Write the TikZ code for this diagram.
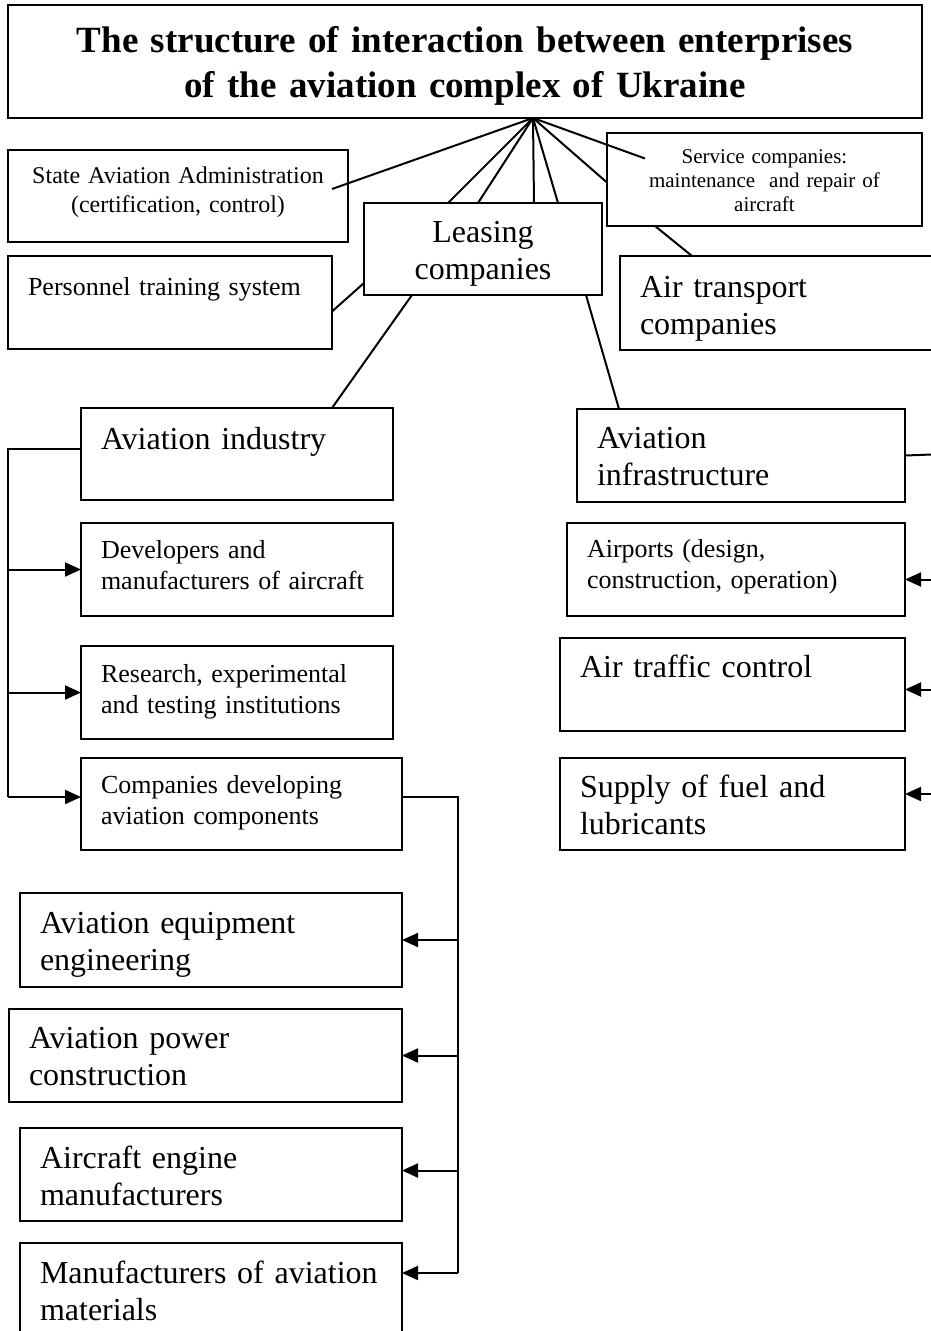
\documentclass[tikz,border=0pt]{standalone}
\usepackage{fontspec}
\setmainfont{Liberation Serif}
\usetikzlibrary{positioning,arrows.meta}
\tikzset{>={Triangle[length=16pt,width=14pt]}}
\tikzset{
  unit/.style={draw,line width=1.8pt,anchor=north west,outer sep=0pt,inner xsep=20pt,inner ysep=0pt,align=left},
  bigtxt/.style={unit,font=\fontsize{32}{37}\selectfont},
  midtxt/.style={unit,font=\fontsize{26}{31}\selectfont},
  link/.style={line width=2pt}
}

\begin{document}
\begin{tikzpicture}[x=1pt,y=-1pt]
\useasboundingbox (0,0) rectangle (931,1331);
\clip (0,0) rectangle (931,1331);

% upper level
\node[unit,align=center,font=\fontsize{37}{45}\selectfont\bfseries,text width=874pt,text height=47pt,text depth=66pt] (title) at (8,5) {The structure of interaction between enterprises\\of the aviation complex of Ukraine};
\node[unit,align=center,font=\fontsize{24}{29}\selectfont,text width=300pt,text height=33pt,text depth=59pt] (admin) at (8,150) {State Aviation Administration\\(certification, control)};
\node[unit,align=center,font=\fontsize{21}{24}\selectfont,text width=275pt,text height=30pt,text depth=63pt] (serv) at (607,133) {Service companies:\\maintenance\ \ and repair of\\aircraft};
\node[bigtxt,align=center,text width=198pt,text height=39pt,text depth=53pt] (lease) at (364,203) {Leasing\\companies};
\node[midtxt,text width=284pt,text height=39pt,text depth=54pt] (pers) at (8,256) {Personnel training system};
\node[bigtxt,text width=300pt,text height=41pt,text depth=53pt] (air) at (620,256) {Air transport\\companies};

% industry and infrastructure
\node[bigtxt,text width=272pt,text height=41pt,text depth=51pt] (ind) at (81,408) {Aviation industry};
\node[bigtxt,text width=288pt,text height=39pt,text depth=54pt] (infra) at (577,409) {Aviation\\infrastructure};
\node[midtxt,text width=272pt,text height=35pt,text depth=58pt] (dev) at (81,523) {Developers and\\manufacturers of aircraft};
\node[midtxt,text width=272pt,text height=36pt,text depth=57pt] (res) at (81,646) {Research, experimental\\and testing institutions};
\node[midtxt,text width=281pt,text height=35pt,text depth=57pt] (comp) at (81,758) {Companies developing\\aviation components};
\node[midtxt,text width=298pt,text height=34pt,text depth=59pt] (airp) at (567,523) {Airports (design,\\construction, operation)};
\node[bigtxt,text width=305pt,text height=39pt,text depth=54pt] (atc) at (560,638) {Air traffic control};
\node[bigtxt,text width=305pt,text height=39pt,text depth=53pt] (sup) at (560,758) {Supply of fuel and\\lubricants};

% components
\node[bigtxt,text width=342pt,text height=40pt,text depth=54pt] (eng) at (20,893) {Aviation equipment\\engineering};
\node[bigtxt,text width=353pt,text height=39pt,text depth=54pt] (pow) at (9,1009) {Aviation power\\construction};
\node[bigtxt,text width=342pt,text height=40pt,text depth=53pt] (engm) at (20,1128) {Aircraft engine\\manufacturers};
\node[bigtxt,text width=342pt,text height=40pt,text depth=60pt] (mat) at (20,1243) {Manufacturers of aviation\\materials};

% links from the title
\coordinate (apex) at ([xshift=525pt]title.south west);
\draw[link] (apex) -- ([xshift=-16pt,yshift=7pt]admin.east);
\foreach \dx in {84,114,170,194}
  \draw[link] (apex) -- ([xshift=\dx pt]lease.north west);
\draw[link] (apex) -- ([yshift=-3pt]serv.west);
\draw[link] (apex) -- ([xshift=38pt,yshift=21pt]serv.west);
\draw[link] ([xshift=48pt]serv.south west) -- ([xshift=72pt]air.north west);
\draw[link] ([yshift=-34pt]lease.west) -- ([yshift=-9pt]pers.east);
\draw[link] ([xshift=48pt]lease.south west) -- ([xshift=251pt]ind.north west);
\draw[link] ([xshift=222pt]lease.south west) -- ([xshift=42pt]infra.north west);

% industry branch
\coordinate (lbus) at (8,449);
\coordinate (cdot) at ([yshift=7pt]comp.west);
\draw[link] ([yshift=5pt]ind.west) -- (lbus) -- (lbus |- cdot);
\foreach \n in {dev,res}
  \draw[link,->] (lbus |- \n.west) -- (\n.west);
\draw[link,->] (lbus |- cdot) -- (cdot);

\coordinate (rbus) at (458,797);
\coordinate (mdot) at ([yshift=20pt]mat.east);
\draw[link] (comp.east |- cdot) -- (rbus) -- (rbus |- mdot);
\foreach \n/\s in {eng/0,pow/0,engm/4,mat/20}{
  \coordinate (tip) at ([yshift=\s pt]\n.east);
  \draw[link,->] (rbus |- tip) -- (tip);
}

% infrastructure branch
\coordinate (rside) at (945,454);
\coordinate (sdot) at ([yshift=10pt]sup.east);
\draw[link] (infra.east) -- (rside) -- (rside |- sdot);
\foreach \n/\s in {airp/-10,atc/-5,sup/10}{
  \coordinate (tip) at ([yshift=\s pt]\n.east);
  \draw[link,->] (rside |- tip) -- (tip);
}
\end{tikzpicture}
\end{document}
